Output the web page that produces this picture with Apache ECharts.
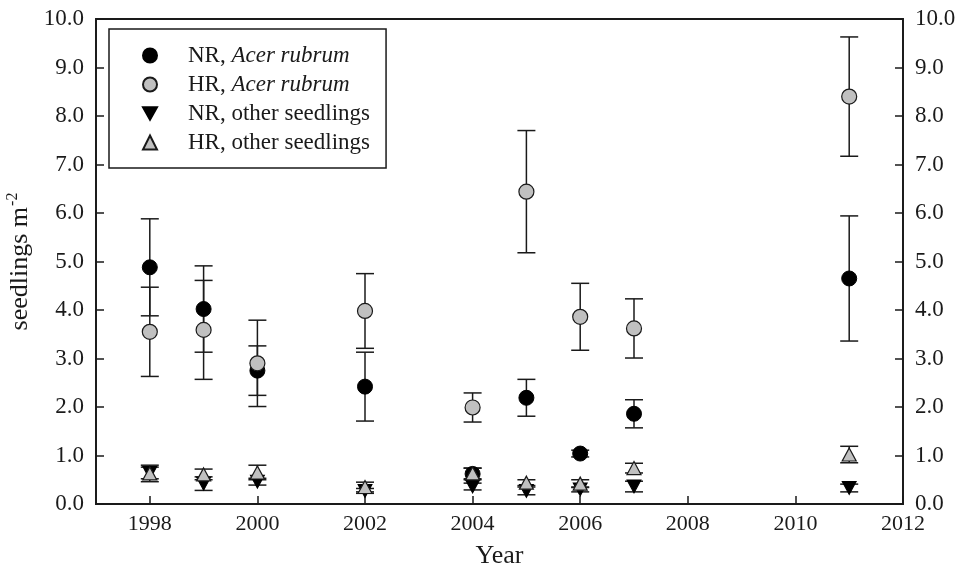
<!DOCTYPE html>
<html>
<head>
<meta charset="utf-8">
<script src="https://cdn.jsdelivr.net/npm/echarts@6/dist/echarts.min.js"></script>
<style>
  html, body { margin: 0; padding: 0; background: #fff; }
  #main { width: 958px; height: 573px; }
</style>
</head>
<body>
<div id="main"></div>
<script>
var years = [1998, 1999, 2000, 2002, 2004, 2005, 2006, 2007, 2011]
var xTicks = [1998, 2000, 2002, 2004, 2006, 2008, 2010, 2012]

// means and standard errors
var nrAcer = [4.88, 4.02, 2.75, 2.42, 0.62, 2.19, 1.04, 1.86, 4.65]
var nrAcerSe = [1.00, 0.89, 0.51, 0.71, 0.12, 0.38, 0.07, 0.29, 1.29]
var hrAcer = [3.55, 3.59, 2.90, 3.98, 1.99, 6.44, 3.86, 3.62, 8.40]
var hrAcerSe = [0.92, 1.02, 0.89, 0.77, 0.30, 1.26, 0.69, 0.61, 1.23]
var nrOther = [0.64, 0.42, 0.46, 0.27, 0.36, 0.27, 0.30, 0.36, 0.33]
var nrOtherSe = [0.12, 0.14, 0.07, 0.05, 0.07, 0.08, 0.05, 0.11, 0.08]
var hrOther = [0.63, 0.61, 0.65, 0.35, 0.63, 0.44, 0.42, 0.74, 1.02]
var hrOtherSe = [0.17, 0.11, 0.15, 0.10, 0.11, 0.06, 0.08, 0.10, 0.17]

var FONT = '"Liberation Serif", "Times New Roman", serif'
var INK = '#1a1a1a'
var GREY = '#c0c0c0'
var DOWN = 'path://M0,0 L10,0 L5,9 Z'

function points(vals) {
  var out = []
  for (let i = 0; i < years.length; i++) {
    out.push([years[i], vals[i]])
  }
  return out
}

function bars(vals, se) {
  var out = []
  for (let i = 0; i < years.length; i++) {
    out.push([years[i], vals[i] - se[i], vals[i] + se[i]])
  }
  return out
}

function renderBar(params, api) {
  var lo = api.coord([api.value(0), api.value(1)])
  var hi = api.coord([api.value(0), api.value(2)])
  var w = 9
  var style = { stroke: INK, lineWidth: 1.5 }
  return {
    type: 'group',
    children: [
      { type: 'line', shape: { x1: lo[0], y1: lo[1], x2: hi[0], y2: hi[1] }, style: style },
      { type: 'line', shape: { x1: lo[0] - w, y1: lo[1], x2: lo[0] + w, y2: lo[1] }, style: style },
      { type: 'line', shape: { x1: hi[0] - w, y1: hi[1], x2: hi[0] + w, y2: hi[1] }, style: style }
    ]
  }
}

function errSeries(vals, se) {
  return {
    type: 'custom',
    renderItem: renderBar,
    data: bars(vals, se),
    encode: { x: 0, y: [1, 2] },
    z: 1,
    silent: true
  }
}

var yAxisBase = {
  type: 'value',
  min: 0,
  max: 10,
  interval: 1,
  axisLine: { show: true, lineStyle: { color: INK, width: 1.8 } },
  axisTick: { show: true, inside: true, length: 8, lineStyle: { color: INK, width: 1.5 } },
  splitLine: { show: false },
  axisLabel: {
    margin: 12,
    color: INK,
    fontFamily: FONT,
    fontSize: 23,
    formatter: function (v) { return v.toFixed(1) }
  }
}

var chart = echarts.init(document.getElementById('main'), null, { renderer: 'canvas' })

chart.setOption({
  animation: false,
  backgroundColor: '#fff',
  grid: {
    left: 96, right: 55, top: 19, bottom: 69,
    outerBoundsMode: 'none',
    show: true, borderColor: INK, borderWidth: 1.8
  },
  legend: {
    orient: 'vertical',
    left: 109,
    top: 29,
    padding: [15, 16, 14, 33],
    itemWidth: 14,
    itemHeight: 14,
    itemGap: 6,
    borderColor: INK,
    borderWidth: 1.5,
    backgroundColor: '#fff',
    data: ['NR, Acer rubrum', 'HR, Acer rubrum', 'NR, other seedlings', 'HR, other seedlings'],
    formatter: function (name) {
      var parts = name.split(', ')
      if (parts[1] == 'Acer rubrum') {
        return '{t|' + parts[0] + ', }{i|' + parts[1] + '}'
      }
      return '{t|' + name + '}'
    },
    textStyle: {
      rich: {
        t: { fontFamily: FONT, fontSize: 23, color: INK, lineHeight: 20 },
        i: { fontFamily: FONT, fontSize: 23, fontStyle: 'italic', color: INK, lineHeight: 20 }
      },
      padding: [0, 0, 0, 26]
    }
  },
  xAxis: {
    type: 'value',
    min: 1997,
    max: 2012,
    name: 'Year',
    nameLocation: 'middle',
    nameGap: 39,
    nameTextStyle: { fontFamily: FONT, fontSize: 26, color: INK },
    axisLine: { show: true, onZero: false, lineStyle: { color: INK, width: 1.8 } },
    axisTick: { show: true, inside: true, length: 8, customValues: xTicks, lineStyle: { color: INK, width: 1.5 } },
    splitLine: { show: false },
    axisLabel: {
      customValues: xTicks,
      margin: 9,
      color: INK,
      fontFamily: FONT,
      fontSize: 22,
      formatter: function (v) { return String(v) }
    }
  },
  yAxis: [
    Object.assign({}, yAxisBase, {
      position: 'left',
      name: 'seedlings m{s|-2}',
      nameLocation: 'middle',
      nameGap: 50,
      nameRotate: 90,
      nameTextStyle: {
        fontFamily: FONT, fontSize: 26, color: INK,
        rich: { s: { fontFamily: FONT, fontSize: 16, color: INK, verticalAlign: 'top', padding: [0, 0, 14, 1] } }
      }
    }),
    Object.assign({}, yAxisBase, { position: 'right' })
  ],
  series: [
    errSeries(nrAcer, nrAcerSe),
    errSeries(hrAcer, hrAcerSe),
    errSeries(nrOther, nrOtherSe),
    errSeries(hrOther, hrOtherSe),
    {
      name: 'NR, Acer rubrum',
      type: 'scatter',
      symbol: 'circle',
      symbolSize: 15,
      itemStyle: { color: '#000', borderColor: '#000', borderWidth: 1, opacity: 1 },
      data: points(nrAcer),
      z: 3
    },
    {
      name: 'HR, Acer rubrum',
      type: 'scatter',
      symbol: 'circle',
      symbolSize: 15,
      itemStyle: { color: GREY, borderColor: INK, borderWidth: 1.2, opacity: 1 },
      data: points(hrAcer),
      z: 4
    },
    {
      name: 'NR, other seedlings',
      type: 'scatter',
      symbol: DOWN,
      symbolSize: [14, 13],
      itemStyle: { color: '#000', borderColor: '#000', borderWidth: 1, opacity: 1 },
      data: points(nrOther),
      z: 5
    },
    {
      name: 'HR, other seedlings',
      type: 'scatter',
      symbol: 'triangle',
      symbolSize: [14, 13],
      itemStyle: { color: GREY, borderColor: INK, borderWidth: 1.2, opacity: 1 },
      data: points(hrOther),
      z: 6
    }
  ]
})
</script>
</body>
</html>
